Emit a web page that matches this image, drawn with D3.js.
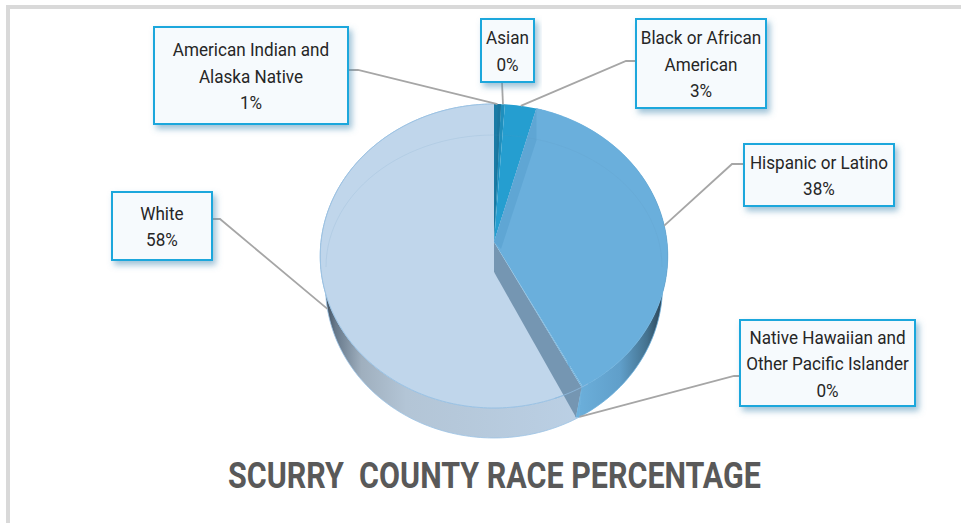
<!DOCTYPE html>
<html>
<head>
<meta charset="utf-8">
<script src="https://cdn.jsdelivr.net/npm/d3@7"></script>
<style>
  html, body { margin: 0; padding: 0; background: #fff; }
  svg { display: block; font-family: Roboto, sans-serif; }
</style>
</head>
<body>
<svg id="chart" width="961" height="523"></svg>
<script>
// chart data (small slices keep their rounded label)
var categories = [
  'American Indian and Alaska Native',
  'Asian',
  'Black or African American',
  'Hispanic or Latino',
  'Native Hawaiian and Other Pacific Islander',
  'White'
]
var percentages = [0.7, 0.4, 3.2, 37.9, 0.1, 57.7]
var labelLines = [
  ['American Indian and', 'Alaska Native'],
  ['Asian'],
  ['Black or African', 'American'],
  ['Hispanic or Latino'],
  ['Native Hawaiian and', 'Other Pacific Islander'],
  ['White']
]
var sliceColors = ['#1b7ba5', '#1f8fbd', '#259ed0', '#6aafdc', '#6aafdc', '#c0d6eb']
var title = 'SCURRY  COUNTY RACE PERCENTAGE'

// callout layout: x0, y0, x1, y1 of the box, elbow point, and whether the leader lands on the lower rim
var callouts = [
  {box: [154, 27, 348, 124], elbow: [358, 70], from: [348, 70], lower: 0},
  {box: [481, 19, 534, 82], elbow: [502, 82], from: [502, 82], lower: 0},
  {box: [636, 19, 766, 108], elbow: [626, 61], from: [636, 61], lower: 0},
  {box: [744, 144, 894, 206], elbow: [732, 164], from: [744, 164], lower: 0},
  {box: [740, 320, 915, 406], elbow: [734, 376], from: [740, 376], lower: 1},
  {box: [112, 192, 212, 260], elbow: [220, 219], from: [212, 219], lower: 1}
]

var svg = d3.select('#chart')
var defs = svg.append('defs')

/*
    --------------------------------------
    Tilted pie projection
*/
var cx = 494
var rx = 173
var apexY = 242
var persp = 0.0921
var slant = -128.4
var depth = 30
var shrink = 0.03

var x = d3.scaleLinear().domain([-1, 1]).range([cx - rx, cx + rx])

function project (a, r, z) {
  var u = Math.sin(a) * r
  var v = Math.cos(a) * r
  var den = 1 + persp * v
  var k = 1 - shrink * z
  return [
    cx + (x(u / den) - cx) * k,
    (slant * v + apexY) / den + depth * z
  ]
}

var line = d3.line()

function rim (a0, a1, r, z) {
  var steps = Math.max(2, Math.ceil(Math.abs(a1 - a0) / 0.02))
  return d3.range(steps + 1).map(function (i) {
    return project(a0 + (a1 - a0) * i / steps, r, z)
  })
}

var slices = d3.pie().sort(null).value(function (d) { return d })(percentages)
var color = d3.scaleOrdinal().domain(categories).range(sliceColors)

function gradient (id, x1, x2, stops) {
  var g = defs.append('linearGradient')
    .attr('id', id)
    .attr('gradientUnits', 'userSpaceOnUse')
    .attr('x1', x1).attr('x2', x2).attr('y1', 0).attr('y2', 0)
  stops.forEach(function (s) {
    g.append('stop').attr('offset', s[0]).attr('stop-color', s[1])
  })
}
gradient('wallWhite', 322, 585, [[0, '#2f3f4e'], [0.05, '#66788a'], [0.15, '#9fafbe'], [0.32, '#b3c5d6'], [1, '#bbd0e5']])
gradient('wallBlue', 575, 665, [[0, '#6cb0dc'], [0.5, '#609fca'], [0.8, '#44728f'], [1, '#263b4c']])

var shadow = defs.append('filter').attr('id', 'boxShadow')
  .attr('x', '-10%').attr('y', '-15%').attr('width', '125%').attr('height', '135%')
shadow.append('feDropShadow')
  .attr('dx', 3).attr('dy', 4).attr('stdDeviation', 3)
  .attr('flood-color', '#4c8fb5').attr('flood-opacity', 0.55)

/*
    --------------------------------------
    Frame
*/
svg.append('path')
  .attr('d', 'M8,523V7H961')
  .attr('fill', 'none')
  .attr('stroke', '#d9d9d9')
  .attr('stroke-width', 4)

/*
    --------------------------------------
    Pie walls, then faces
*/
var pie = svg.append('g').attr('class', 'pie')
var hispanic = slices[3]
var white = slices[5]
var cut = white.startAngle
var cutTop = project(cut, 1, 0)
var cutLow = project(cut, 1, 1)
var cutFoot = [cutLow[0] - 3, cutLow[1]]

// outer walls, the top faces cover what is not visible
pie.append('path')
  .attr('d', line(rim(white.startAngle, white.endAngle, 1, 0).concat(rim(white.endAngle, white.startAngle, 1, 1))) + 'Z')
  .attr('fill', 'url(#wallWhite)')
  .attr('stroke', '#9cc3e4')
  .attr('stroke-width', 0.8)
pie.append('path')
  .attr('d', line(rim(hispanic.startAngle, cut, 1, 0).concat(rim(cut, hispanic.startAngle, 1, 1), [cutFoot])) + 'Z')
  .attr('fill', 'url(#wallBlue)')
  .attr('stroke', '#6aafdc')
  .attr('stroke-width', 0.8)

var apex = project(0, 0, 0)
var apexLow = project(0, 0, 1)

// white face sits on the lower apex of the cut
pie.append('path')
  .attr('d', line([[apexLow[0], apexLow[1]]].concat(rim(white.startAngle, white.endAngle, 1, 0))) + 'Z')
  .attr('fill', color(categories[5]))
pie.append('path')
  .attr('d', line(rim(white.startAngle, white.endAngle, 1, 0)))
  .attr('fill', 'none')
  .attr('stroke', '#9cc3e4')
  .attr('stroke-width', 1)

// cut wall between the blue and the white slice
pie.append('path')
  .attr('d', line([apex, apexLow, cutFoot, cutTop]) + 'Z')
  .attr('fill', '#7596b2')

// wall of the blue slice runs up to the foot of the cut
pie.append('path')
  .attr('d', line([cutTop, cutFoot, cutLow]) + 'Z')
  .attr('fill', '#6cb0dc')

// slices left of the cut
slices.slice(0, 5).forEach(function (s, i) {
  pie.append('path')
    .attr('d', line([apex].concat(rim(s.startAngle, s.endAngle, 1, 0))) + 'Z')
    .attr('fill', color(categories[i]))
})

// front rim carries on faintly across the cut
pie.append('path')
  .attr('d', line(rim(cut - 0.04, cut + 0.16, 1, 0)))
  .attr('fill', 'none')
  .attr('stroke', '#8fbbdf')
  .attr('stroke-width', 0.8)

// translucent inner wall of the blue slice, seen through the black one
var edge = project(hispanic.startAngle, 1, 0)
pie.append('path')
  .attr('d', line([apex, edge, [edge[0], edge[1] + 32], [apex[0] + 7, apex[1] + 7]]) + 'Z')
  .attr('fill', '#5fa6d4')

var edgeDark = project(slices[0].endAngle, 1, 0)
pie.append('path')
  .attr('d', line([apex, [edgeDark[0] - 3, edgeDark[1]], edgeDark]) + 'Z')
  .attr('fill', '#1a769e')

// faint bevel ring on the top face
var bevel = d3.range(0, 181, 3).map(function (d) {
  var a = (d - 90) * Math.PI / 180
  return [cx + 168 * Math.sin(a), 267 - 132 * Math.cos(a)]
})
pie.append('path')
  .attr('d', line(bevel))
  .attr('fill', 'none')
  .attr('stroke', '#5a93bd')
  .attr('stroke-opacity', 0.13)
  .attr('stroke-width', 1)

/*
    --------------------------------------
    Callouts
*/
var labels = svg.append('g').attr('class', 'callouts')

callouts.forEach(function (c, i) {
  var s = slices[i]
  var end = project((s.startAngle + s.endAngle) / 2, 1, c.lower)
  labels.append('path')
    .attr('d', line([c.from, c.elbow, end]))
    .attr('fill', 'none')
    .attr('stroke', '#a6a6a6')
    .attr('stroke-width', 1.8)
})

callouts.forEach(function (c, i) {
  var b = c.box
  labels.append('rect')
    .attr('x', b[0]).attr('y', b[1])
    .attr('width', b[2] - b[0]).attr('height', b[3] - b[1])
    .attr('fill', '#f6fafd')
    .attr('stroke', '#1fa7dc')
    .attr('stroke-width', 2)
    .attr('filter', 'url(#boxShadow)')

  var rows = labelLines[i].concat([d3.format('.0f')(percentages[i]) + '%'])
  var lh = 26.5
  var mid = (b[0] + b[2]) / 2
  var first = (b[1] + b[3]) / 2 - (rows.length - 1) * lh / 2 + 7
  rows.forEach(function (t, j) {
    var el = labels.append('text')
      .attr('x', mid)
      .attr('y', first + j * lh)
      .attr('text-anchor', 'middle')
      .attr('font-size', 19)
      .attr('fill', '#262626')
      .text(t)
    var w = el.node().getComputedTextLength()
    el.attr('textLength', w * 0.9).attr('lengthAdjust', 'spacingAndGlyphs')
  })
})

/*
    --------------------------------------
    Title
*/
svg.append('text')
  .attr('x', 494.5)
  .attr('y', 488)
  .attr('text-anchor', 'middle')
  .attr('font-size', 37)
  .attr('font-weight', 700)
  .attr('fill', '#595959')
  .attr('textLength', 533)
  .attr('lengthAdjust', 'spacingAndGlyphs')
  .attr('xml:space', 'preserve')
  .style('white-space', 'pre')
  .text(title)
</script>
</body>
</html>
